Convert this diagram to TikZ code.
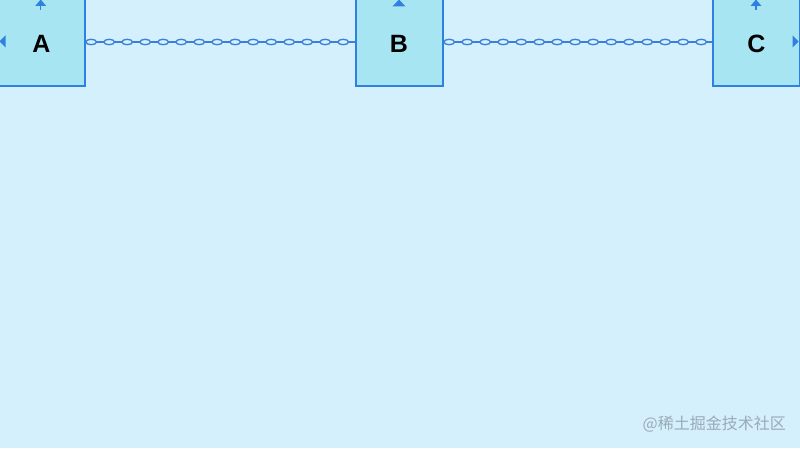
\documentclass[tikz,border=0pt]{standalone}
\usepackage{fontspec}
\setmainfont{Liberation Sans}
\newfontfamily\cjk{Noto Sans CJK SC}
\usetikzlibrary{calc}
\definecolor{bgc}{HTML}{D3F0FC}
\definecolor{boxfill}{HTML}{A8E5F3}
\definecolor{boxline}{HTML}{2F80E0}
\definecolor{chainc}{HTML}{3A7FD8}
\definecolor{wm}{HTML}{9AABB6}
\tikzset{
  blk/.style={draw=boxline, fill=boxfill, line width=1.4pt, minimum width=87pt, minimum height=87pt, inner sep=0pt},
  lbl/.style={inner sep=0pt, font=\fontsize{25}{30}\selectfont\bfseries},
  tri/.style={fill=boxline, draw=none},
  stem/.style={draw=boxline, line width=1.4pt},
  chainline/.style={draw=chainc, line width=1.4pt},
  linkshape/.style={draw=chainc, fill=bgc, line width=1.3pt}
}
\begin{document}
\begin{tikzpicture}[x=1pt,y=1pt]
\useasboundingbox (0,0) rectangle (800,448);
\fill[bgc] (0,0) rectangle (800,448);
\node[blk] (A) at (41.5,405.5) {};
\node[blk] (B) at (399.5,405.5) {};
\node[blk] (C) at (756.5,405.5) {};
\node[lbl] (Alab) at ($(A.center)+(0,-1.2)$) {A};
\node[lbl] (Blab) at ($(B.center)+(-0.5,-1.2)$) {B};
\node[lbl] (Clab) at ($(C.center)+(0,-1.2)$) {C};
% chains
\draw[chainline] ($(A.east)+(0,0.5)$) -- ($(B.west)+(0,0.5)$);
\draw[chainline] ($(B.east)+(0,0.5)$) -- ($(C.west)+(0,0.5)$);
\foreach \i in {0,...,14}{
  \draw[linkshape] ($(A.east)+(5.5+18*\i,0.5)$) ellipse [x radius=5.3, y radius=2.7];
  \draw[linkshape] ($(B.east)+(5.5+18*\i,0.5)$) ellipse [x radius=5.3, y radius=2.7];
}
% port arrows
\coordinate (At) at (40.7,448);
\fill[tri] (At) ++(0,0.5) -- ++(-5.5,-6.5) -- ++(11,0) -- cycle;
\draw[stem] ($(At)+(0,-5)$) -- ($(At)+(0,-10.5)$);
\coordinate (Al) at (0,406.5);
\fill[tri] (Al) ++(-0.5,0) -- ++(6,6) -- ++(0,-12) -- cycle;
\coordinate (Bt) at (399,448);
\fill[tri] (Bt) ++(0,0.5) -- ++(-6.5,-7) -- ++(13,0) -- cycle;
\coordinate (Ct) at (756,448);
\fill[tri] (Ct) ++(0,0.5) -- ++(-5.5,-6.5) -- ++(11,0) -- cycle;
\draw[stem] ($(Ct)+(0,-5)$) -- ($(Ct)+(0,-10.5)$);
\coordinate (Cr) at (798.5,406.5);
\fill[tri] (Cr) -- ++(-6,6) -- ++(0,-12) -- cycle;
% watermark
\node[text=wm, anchor=east, inner sep=0pt, font=\cjk\fontsize{16}{18}\selectfont] (wmk) at (786,24) {@稀土掘金技术社区};
\end{tikzpicture}
\end{document}
